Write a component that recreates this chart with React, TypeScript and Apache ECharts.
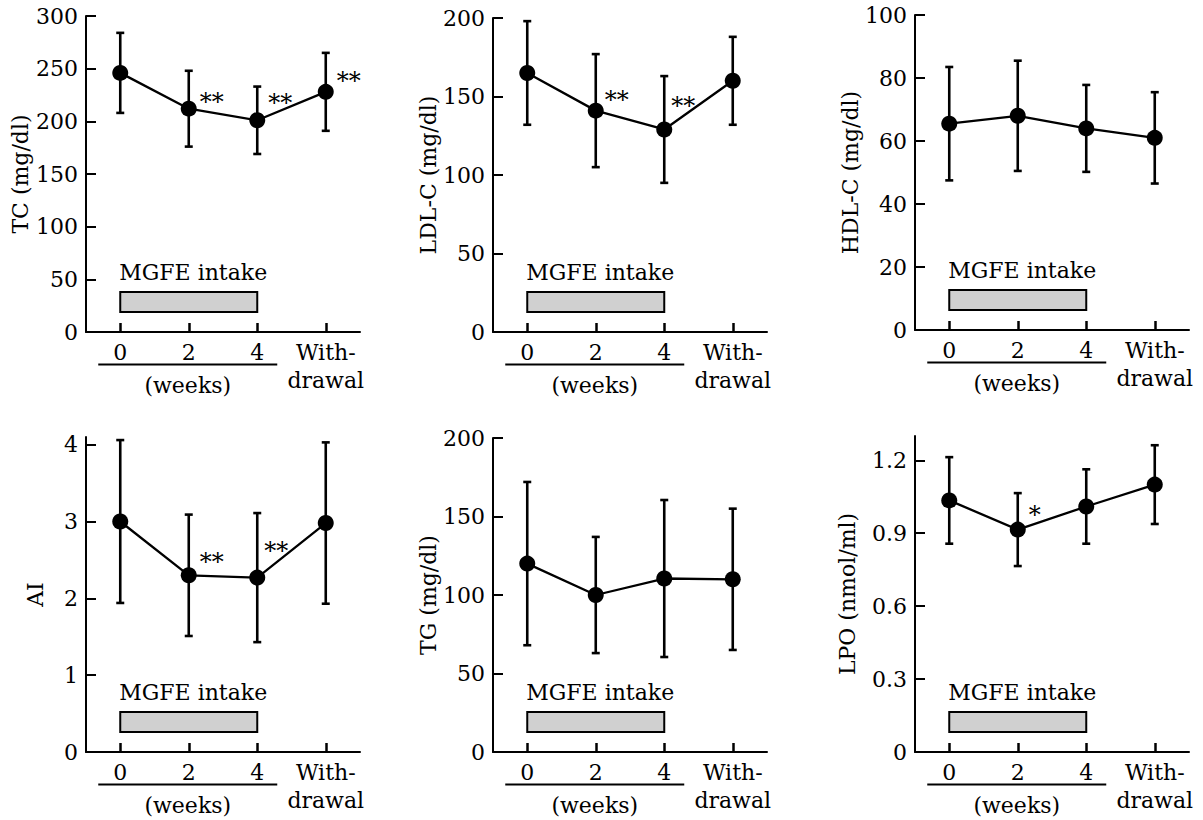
import React, { useEffect, useRef } from "react";
import * as echarts from "echarts";

const FONT = "DejaVu Serif";
const FS = 22;

const categories = ["0", "2", "4", "With-\ndrawal"];

const tcMean = [246, 212, 201, 228];
const tcSd = [38, 36, 32, 37];
const tcSig = ["", "**", "**", "**"];
const tcTicks = [0, 50, 100, 150, 200, 250, 300];

const ldlMean = [165, 141, 129, 160];
const ldlSd = [33, 36, 34, 28];
const ldlSig = ["", "**", "**", ""];
const ldlTicks = [0, 50, 100, 150, 200];

const hdlMean = [65.5, 68, 64, 61];
const hdlSd = [18, 17.5, 13.8, 14.5];
const hdlSig = ["", "", "", ""];
const hdlTicks = [0, 20, 40, 60, 80, 100];

const aiMean = [3.0, 2.3, 2.27, 2.98];
const aiSd = [1.06, 0.79, 0.84, 1.05];
const aiSig = ["", "**", "**", ""];
const aiTicks = [0, 1, 2, 3, 4];

const tgMean = [120, 100, 110.5, 110];
const tgSd = [52, 37, 50, 45];
const tgSig = ["", "", "", ""];
const tgTicks = [0, 50, 100, 150, 200];

const lpoMean = [1.035, 0.915, 1.01, 1.1];
const lpoSd = [0.178, 0.15, 0.153, 0.162];
const lpoSig = ["", "*", "", ""];
const lpoTicks = [0, 0.3, 0.6, 0.9, 1.2];

const intakeLabel = "MGFE intake";
const weeksLabel = "(weeks)";

const panels = [
  { name: "TC (mg/dl)", mean: tcMean, sd: tcSd, sig: tcSig, ticks: tcTicks, max: 300 },
  { name: "LDL-C (mg/dl)", mean: ldlMean, sd: ldlSd, sig: ldlSig, ticks: ldlTicks, max: 200 },
  { name: "HDL-C (mg/dl)", mean: hdlMean, sd: hdlSd, sig: hdlSig, ticks: hdlTicks, max: 100 },
  { name: "AI", mean: aiMean, sd: aiSd, sig: aiSig, ticks: aiTicks, max: 4.1 },
  { name: "TG (mg/dl)", mean: tgMean, sd: tgSd, sig: tgSig, ticks: tgTicks, max: 200 },
  { name: "LPO (nmol/ml)", mean: lpoMean, sd: lpoSd, sig: lpoSig, ticks: lpoTicks, max: 1.3 },
];

// layout / styling (not data)
const layouts = [
  { left: 86, top: 16, height: 316, nameGap: 55, star: [[0, 0], [0, -7], [0, -17], [0, -11]] },
  { left: 493, top: 18, height: 314, nameGap: 50, star: [[0, 0], [-2, -11], [-4, -23], [0, 0]] },
  { left: 915, top: 15, height: 315, nameGap: 46, star: [[0, 0], [0, 0], [0, 0], [0, 0]] },
  { left: 86, top: 437, height: 315, nameGap: 40, star: [[0, 0], [0, -13], [-4, -27], [0, 0]] },
  { left: 493, top: 438, height: 314, nameGap: 54, star: [[0, 0], [0, 0], [0, 0], [0, 0]] },
  { left: 915, top: 436, height: 316, nameGap: 57, star: [[0, 0], [0, -15], [0, 0], [0, 0]] },
];
const GRID_W = 274;

export default function App() {
  const ref = useRef<HTMLDivElement>(null);
  useEffect(() => {
    document.body.style.margin = "0";
    const chart = echarts.init(ref.current!, null, { renderer: "svg" });
    const grid: any[] = [];
    const xAxis: any[] = [];
    const yAxis: any[] = [];
    const series: any[] = [];
    panels.forEach((p, i) => {
      const L = layouts[i];
      grid.push({ left: L.left, top: L.top, width: GRID_W, height: L.height });
      xAxis.push({
        type: "category",
        gridIndex: i,
        data: categories,
        boundaryGap: true,
        axisLine: { show: true, lineStyle: { color: "#000", width: 2 } },
        axisTick: { show: true, inside: true, alignWithLabel: true, length: 9, lineStyle: { color: "#000", width: 2.5 } },
        axisLabel: { interval: 0, margin: 6, fontSize: FS, lineHeight: 28, fontFamily: FONT, color: "#000" },
        splitLine: { show: false },
      });
      yAxis.push({
        type: "value",
        gridIndex: i,
        min: 0,
        max: p.max,
        name: p.name,
        nameLocation: "middle",
        nameGap: L.nameGap,
        nameRotate: 90,
        nameTextStyle: { fontSize: FS, fontFamily: FONT, color: "#000" },
        axisLine: { show: true, lineStyle: { color: "#000", width: 2 } },
        axisTick: { show: true, inside: true, length: 10, lineStyle: { color: "#000", width: 2 }, customValues: p.ticks },
        axisLabel: { fontSize: FS, fontFamily: FONT, color: "#000", margin: 8, customValues: p.ticks },
        splitLine: { show: false },
      });
      series.push({
        type: "custom",
        xAxisIndex: i,
        yAxisIndex: i,
        z: 2,
        data: p.mean.map((m, j) => [j, m - p.sd[j], m + p.sd[j]]),
        renderItem: (_params: any, api: any) => {
          const lo = api.coord([api.value(0), api.value(1)]);
          const hi = api.coord([api.value(0), api.value(2)]);
          const cap = 4;
          const st = { stroke: "#000", lineWidth: 2.6 };
          return {
            type: "group",
            children: [
              { type: "line", shape: { x1: hi[0], y1: hi[1], x2: lo[0], y2: lo[1] }, style: st },
              { type: "line", shape: { x1: hi[0] - cap, y1: hi[1], x2: hi[0] + cap, y2: hi[1] }, style: st },
              { type: "line", shape: { x1: lo[0] - cap, y1: lo[1], x2: lo[0] + cap, y2: lo[1] }, style: st },
            ],
          };
        },
      });
      series.push({
        type: "line",
        xAxisIndex: i,
        yAxisIndex: i,
        z: 3,
        symbol: "circle",
        symbolSize: 16,
        itemStyle: { color: "#000" },
        lineStyle: { color: "#000", width: 2.3 },
        label: { show: false, position: "right", distance: 3, fontSize: 24, fontFamily: FONT, color: "#000" },
        data: p.mean.map((v, j) => ({
          value: v,
          label: { show: p.sig[j] !== "", formatter: p.sig[j], offset: L.star[j] },
        })),
      });
    });
    chart.setOption({ animation: false, backgroundColor: "#fff", grid, xAxis, yAxis, series });

    const graphic: any[] = [];
    panels.forEach((_p, i) => {
      const x0 = chart.convertToPixel({ xAxisIndex: i }, 0) as number;
      const x2 = chart.convertToPixel({ xAxisIndex: i }, 1) as number;
      const x4 = chart.convertToPixel({ xAxisIndex: i }, 2) as number;
      const yb = chart.convertToPixel({ yAxisIndex: i }, 0) as number;
      graphic.push({
        type: "rect",
        shape: { x: x0, y: yb - 40, width: x4 - x0, height: 20 },
        style: { fill: "#d0d0d0", stroke: "#000", lineWidth: 2 },
        z: 1,
      });
      graphic.push({
        type: "text",
        x: x0 - 1,
        y: yb - 60,
        style: { text: intakeLabel, fontSize: FS, fontFamily: FONT, fill: "#000", align: "left", verticalAlign: "middle", textAlign: "left", textVerticalAlign: "middle" },
      });
      graphic.push({
        type: "line",
        shape: { x1: x0 - 22, y1: yb + 32.5, x2: x4 + 20, y2: yb + 32.5 },
        style: { stroke: "#000", lineWidth: 2 },
      });
      graphic.push({
        type: "text",
        x: x2 - 1,
        y: yb + 53,
        style: { text: weeksLabel, fontSize: FS, fontFamily: FONT, fill: "#000", align: "center", verticalAlign: "middle", textAlign: "center", textVerticalAlign: "middle" },
      });
    });
    chart.setOption({ graphic });
    return () => chart.dispose();
  }, []);
  return <div ref={ref} style={{ position: "absolute", left: 0, top: 0, width: 1203, height: 820 }} />;
}
